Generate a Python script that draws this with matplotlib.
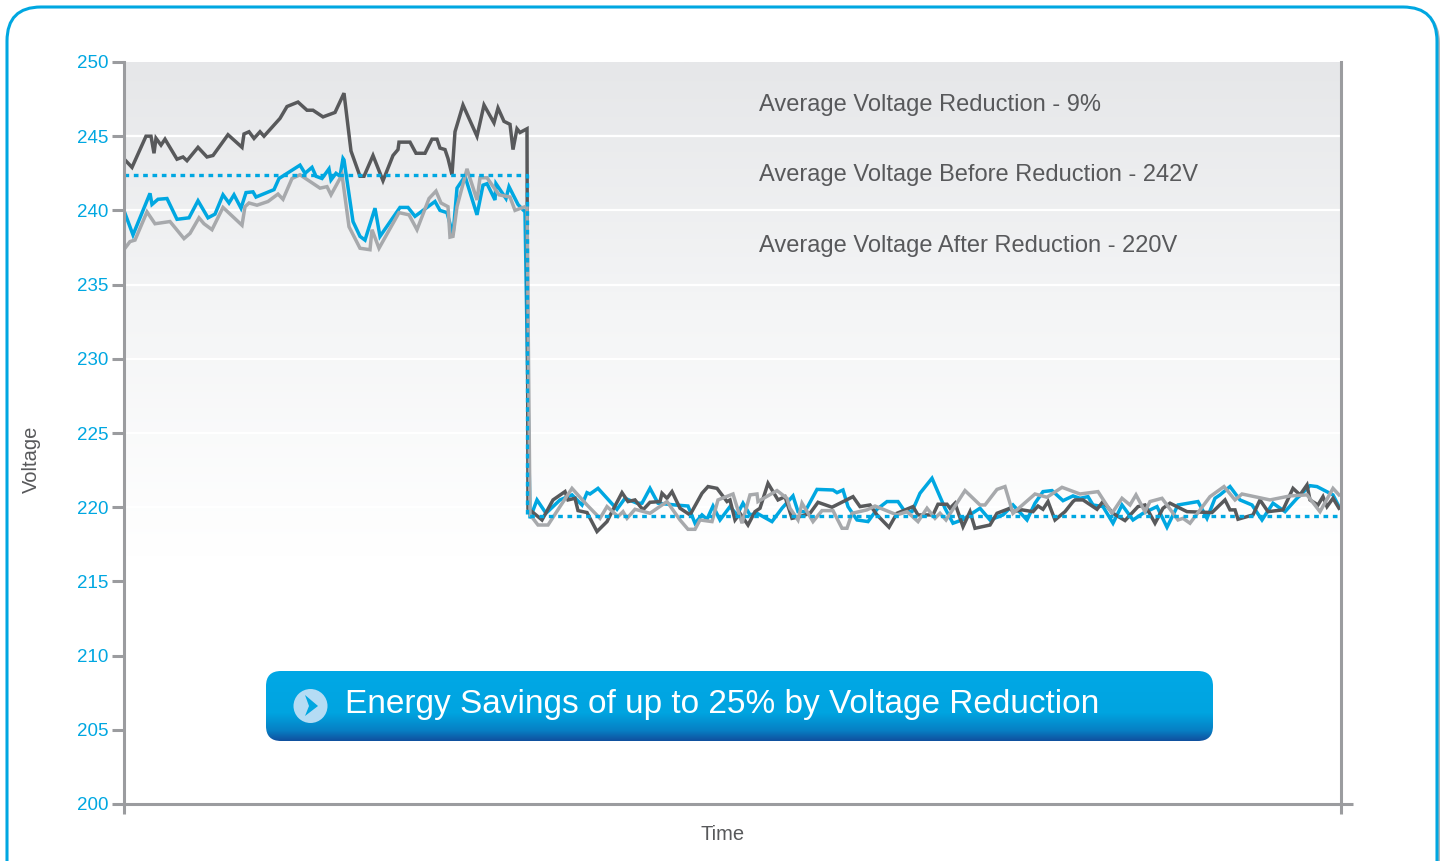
import numpy as np
import matplotlib
matplotlib.use('Agg')
import matplotlib.pyplot as plt
from matplotlib.colors import LinearSegmentedColormap
from matplotlib.patches import Circle, FancyBboxPatch, Polygon

plt.rcParams['font.family'] = ['Liberation Sans', 'DejaVu Sans']

# time is in arbitrary units, the chart has no time scale
time_end = 1217
time_step = 403
avg_before = 242.4
avg_after = 219.4

dark_time = [
    1, 8, 22, 27, 30, 32, 37, 41, 53, 59, 63, 74, 83, 89, 104, 118, 120, 125, 130, 136, 140,
    156, 163, 174, 183, 189, 199, 211, 220, 227, 236, 240, 249, 259, 269, 274, 275, 286, 292,
    301, 308, 313, 316, 321, 324, 328, 331, 339, 353, 360, 370, 374, 380, 386, 389, 393, 396,
    403, 404,
    408, 418, 429, 441, 444, 451, 454, 463, 473, 483, 488, 498, 504, 511, 519, 526, 536, 538,
    543, 548, 556, 566, 578, 584, 593, 603, 606, 611, 616, 624, 631, 636, 644, 654, 661, 668,
    676, 686, 694, 708, 729, 736, 746, 753, 765, 773, 789, 794, 809, 814, 823, 826, 831, 839,
    846, 851, 866, 873, 886, 889, 898, 909, 914, 919, 924, 931, 941, 949,
    951, 959, 973, 979, 989, 1001, 1014, 1021, 1031, 1039, 1046, 1063, 1088, 1101, 1106, 1111,
    1114, 1129, 1136, 1144, 1159, 1169, 1176, 1183, 1186, 1194, 1199, 1203, 1209, 1215,
]
dark_volts = [
    243.4, 242.9, 245.0, 245.0, 243.85, 244.86, 244.4, 244.8, 243.45, 243.6, 243.35, 244.25,
    243.6, 243.7, 245.1, 244.25, 245.15, 245.3, 244.85, 245.3, 245.0, 246.2, 247.0, 247.3,
    246.75, 246.75, 246.3, 246.6, 247.9, 244.0, 242.3, 242.3, 243.7, 242.0, 243.7, 244.1,
    244.6, 244.6, 243.85, 243.85, 244.8, 244.8, 244.2, 244.1, 243.5, 242.4, 245.3, 247.1,
    245.0, 247.1, 245.9, 246.9, 246.0, 245.8, 244.1, 245.5, 245.25, 245.5, 219.9,
    219.7, 219.14, 220.49, 221.05, 220.49, 220.6, 219.77, 219.64, 218.36, 219.03, 219.7,
    220.98, 220.38, 220.49, 219.82, 220.33, 220.38, 220.94, 220.6, 221.05, 219.93, 219.48,
    220.94, 221.39, 221.27, 220.38, 220.49, 219.14, 219.59, 218.8, 219.7, 219.93, 221.61,
    220.49, 220.71, 219.25, 219.37, 219.59, 220.33, 220.0, 220.71, 220.04, 220.15, 219.48,
    218.65, 219.59, 220.04, 219.48, 219.48, 220.2, 220.2, 219.93, 220.27, 218.69, 219.7,
    218.58, 218.8, 219.59, 219.93, 219.7, 219.82, 219.7, 220.08, 219.86, 220.38, 219.14,
    219.7, 220.38, 220.49, 220.49, 219.86, 220.38, 219.59, 219.1, 220.04, 220.15, 218.92,
    219.93, 220.27, 219.7, 219.64, 220.49, 219.82, 219.82, 219.19, 219.48, 220.49, 219.7,
    219.82, 221.27, 220.83, 221.5, 220.49, 220.15, 220.71, 220.04, 220.6, 219.93,
]

blue_time = [
    1, 9, 26, 28, 34, 43, 53, 65, 74, 84, 91, 99, 105, 110, 117, 122, 129, 132, 150, 155, 176,
    181, 188, 192, 198, 205, 207, 212, 216, 219, 220, 229, 236, 241, 251, 256, 276, 284, 291,
    311, 316, 323, 329, 333, 341, 353, 359, 363, 371, 372, 382, 385, 394, 401,
    406, 413, 422, 436, 448, 458, 463, 466, 474, 493, 501, 513, 518, 526, 534, 551, 564, 571,
    578, 583, 589, 596, 606, 613, 619, 626, 633, 648, 658, 669, 674, 681, 693, 709, 713, 719,
    724, 733, 744, 753, 763, 774, 781, 788, 796, 808, 821, 829, 838, 856, 866, 879, 889, 903,
    911, 919, 928, 939, 949, 956, 964, 969, 979, 989, 998, 1009, 1019, 1033, 1043, 1054, 1074,
    1083, 1091, 1096, 1106, 1116, 1128, 1138, 1149, 1161, 1173, 1186, 1193, 1209, 1215,
]
blue_volts = [
    239.8, 238.35, 241.15, 240.4, 240.75, 240.8, 239.4, 239.5, 240.65, 239.5, 239.75, 241.05,
    240.5, 241.05, 240.15, 241.2, 241.25, 240.9, 241.4, 242.15, 243.05, 242.5, 242.9, 242.3,
    242.15, 242.8, 242.05, 242.5, 242.3, 243.5, 243.4, 239.25, 238.25, 238.0, 240.15, 238.25,
    240.2, 240.2, 239.6, 240.6, 240.0, 239.85, 238.35, 241.5, 242.3, 239.7, 241.7, 241.8,
    240.7, 241.8, 240.8, 241.6, 240.4, 239.9,
    219.25, 220.49, 219.59, 220.49, 220.83, 220.15, 220.98, 220.89, 221.27, 219.86, 220.6,
    220.27, 220.27, 221.27, 220.27, 220.15, 220.08, 218.92, 219.48, 219.19, 220.08, 219.14,
    220.04, 219.48, 220.27, 219.48, 219.59, 219.03, 219.93, 220.76, 219.7, 219.7, 221.2,
    221.16, 220.98, 221.16, 220.04, 219.14, 219.03, 219.86, 220.38, 220.38, 219.7, 219.7,
    220.94, 221.95, 219.93, 218.92, 219.14, 219.93, 219.14, 219.48, 220.15, 219.14, 220.27,
    221.05, 221.12, 220.44, 220.76, 220.6, 220.71, 220.15, 220.04, 218.92, 220.15, 219.14,
    219.59, 220.04, 218.65, 220.15, 220.38, 219.25, 220.6, 220.83, 221.39, 220.49, 220.15,
    219.14, 220.27, 219.7, 220.6, 221.45, 221.39, 220.83, 220.04,
]

gray_time = [
    1, 6, 11, 23, 31, 46, 60, 66, 75, 80, 88, 99, 118, 121, 125, 133, 144, 154, 159, 168, 176,
    196, 203, 207, 218, 225, 236, 246, 248, 255, 275, 285, 293, 305, 312, 317, 324, 326, 329,
    333, 343, 353, 356, 363, 375, 386, 391, 403,
    406, 414, 424, 436, 448, 463, 476, 483, 494, 499, 503, 511, 526, 543, 556, 564, 571, 576,
    588, 594, 609, 618, 626, 633, 634, 653, 663, 666, 674, 678, 689, 698, 709, 718, 723, 728,
    743, 751, 773, 783, 794, 803, 811, 816, 822, 841, 856, 861, 873, 881, 889, 911, 923, 938,
    956, 974, 988, 998, 1006, 1012, 1021, 1026, 1038, 1054, 1059, 1066, 1086, 1100, 1111,
    1118, 1146, 1166, 1183, 1196, 1209, 1215,
]
gray_volts = [
    237.45, 237.9, 238.0, 239.9, 239.1, 239.25, 238.1, 238.45, 239.5, 239.1, 238.7, 240.2,
    239.0, 240.25, 240.5, 240.35, 240.6, 241.1, 240.75, 242.15, 242.4, 241.5, 241.6, 241.05,
    242.4, 238.9, 237.45, 237.35, 238.7, 237.45, 239.85, 239.7, 238.7, 240.8, 241.3, 240.5,
    240.25, 238.2, 238.25, 240.25, 242.8, 240.7, 242.2, 242.2, 241.05, 240.9, 240.0, 240.3,
    219.5, 218.8, 218.8, 220.04, 221.27, 220.15, 219.25, 220.04, 219.37, 219.7, 219.25,
    219.86, 219.59, 220.38, 219.14, 218.51, 218.51, 219.14, 219.03, 220.49, 220.89, 218.92,
    220.83, 220.89, 220.38, 221.12, 220.6, 219.93, 219.14, 220.27, 219.03, 219.77, 219.77,
    218.58, 218.58, 219.59, 219.82, 220.08, 219.48, 219.7, 219.03, 219.93, 219.25, 219.59,
    219.14, 221.12, 220.15, 220.15, 221.2, 221.39, 219.59, 220.89, 220.67, 221.34, 220.89,
    221.05, 219.59, 220.6, 220.15, 220.83, 219.7, 220.38, 220.6, 219.14, 219.25, 218.92,
    220.71, 221.39, 220.49, 220.89, 220.49, 220.76, 220.83, 219.7, 221.27, 220.83,
]

y_ticks = list(range(200, 251, 5))
notes = [
    'Average Voltage Reduction - 9%',
    'Average Voltage Before Reduction - 242V',
    'Average Voltage After Reduction - 220V',
]
banner_text = 'Energy Savings of up to 25% by Voltage Reduction'

BLUE = '#00a7e1'
DARK = '#58595b'
GRAY = '#a7a9ac'
AXIS = '#9b9c9f'
W, H = 1450, 861

fig = plt.figure(figsize=(W / 100, H / 100), dpi=100, facecolor='white')


def pixel_axes(zorder):
    ax = fig.add_axes([0, 0, 1, 1], zorder=zorder)
    ax.set_xlim(0, W)
    ax.set_ylim(H, 0)
    ax.axis('off')
    ax.patch.set_alpha(0)
    return ax


# frame behind everything
back = pixel_axes(0)
back.add_patch(FancyBboxPatch((9, 9), W - 19, H + 60, boxstyle='round,pad=0,rounding_size=34',
                              fc='#b4b5b7', ec='none'))
back.add_patch(FancyBboxPatch((7, 7), W - 20, H + 60, boxstyle='round,pad=0,rounding_size=34',
                              fc='white', ec=BLUE, lw=2.2))

# plot
ax = fig.add_axes([124 / W, 1 - 804 / H, 1217 / W, 742 / H], zorder=1)
ax.patch.set_alpha(0)
ax.set_xlim(0, time_end)
ax.set_ylim(200, 250)

shade = LinearSegmentedColormap.from_list('shade', ['#ffffff', '#ffffff', '#f4f5f6', '#e6e7e9'])
ax.imshow(np.linspace(0, 1, 256).reshape(-1, 1), extent=[0, time_end, 200, 250], aspect='auto',
          origin='lower', cmap=shade, zorder=0)

for v in y_ticks[1:-1]:
    ax.axhline(v, color='white', lw=1.6, zorder=1)

ax.plot(blue_time, blue_volts, color=BLUE, lw=2.5, solid_joinstyle='miter', zorder=3)
ax.plot(dark_time, dark_volts, color=DARK, lw=2.5, solid_joinstyle='miter', zorder=4)
ax.plot(gray_time, gray_volts, color=GRAY, lw=2.5, solid_joinstyle='miter', zorder=5)
ax.plot([0, time_step, time_step, time_end], [avg_before, avg_before, avg_after, avg_after],
        color=BLUE, lw=2.4, linestyle=(0, (1.4, 1.4)), dash_capstyle='butt', zorder=6)

for s in ['top']:
    ax.spines[s].set_visible(False)
for s in ['left', 'right', 'bottom']:
    ax.spines[s].set_color(AXIS)
    ax.spines[s].set_linewidth(2.2)
    ax.spines[s].set_zorder(7)

ax.set_yticks(y_ticks)
ax.set_xticks([0, time_end])
ax.set_xticklabels([])
ax.tick_params(axis='y', length=8.5, width=2.2, color=AXIS, labelcolor=BLUE, labelsize=13.5, pad=3)
ax.tick_params(axis='x', length=7, width=2.2, color=AXIS)
ax.set_ylabel('Voltage', color=DARK, fontsize=14.5)
ax.yaxis.set_label_coords((41 - 124) / 1217, (804 - 459) / 742)
ax.set_xlabel('Time', color=DARK, fontsize=14.5)
ax.xaxis.set_label_coords((723 - 124) / 1217, -(835 - 804) / 742, transform=ax.transAxes)
ax.xaxis.label.set_va('center')

# overlay: notes, axis stub and banner
top = pixel_axes(2)
for label, y in zip(notes, [105, 175, 246]):
    top.text(759, y, label, color=DARK, fontsize=17, va='center', ha='left')
top.plot([1341, 1353], [804, 804], color=AXIS, lw=2.2, solid_capstyle='butt')

box = FancyBboxPatch((266, 671), 947, 70, boxstyle='round,pad=0,rounding_size=15',
                     fc='none', ec='none')
top.add_patch(box)
banner = LinearSegmentedColormap.from_list(
    'banner', [(0, '#00a8e6'), (0.6, '#00a4e0'), (0.85, '#0780c4'), (1, '#10509f')])
img = top.imshow(np.linspace(0, 1, 128).reshape(-1, 1), extent=[266, 1213, 741, 671],
                 aspect='auto', cmap=banner)
img.set_clip_path(box)
top.set_xlim(0, W)
top.set_ylim(H, 0)
top.add_patch(Circle((310.5, 706), 17, fc='#b5dcf4', ec='none'))
top.add_patch(Polygon([(305, 695), (318, 706), (305, 716), (309, 706)], fc=BLUE, ec='none'))
top.text(345, 705, banner_text, color='white', fontsize=24, va='center', ha='left')

fig.savefig('out.png', dpi=100)
